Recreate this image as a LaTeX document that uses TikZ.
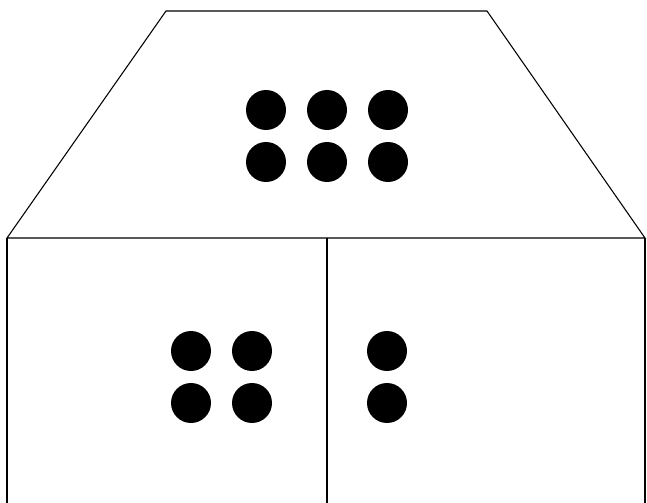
\documentclass[tikz,border=0pt]{standalone}
\usetikzlibrary{calc}

\tikzset{
  wall/.style={line width=0.8pt, black},
  dot/.style={circle, fill=black, inner sep=0pt, minimum size=30pt}
}

\begin{document}
\begin{tikzpicture}[x=0.75pt, y=-0.75pt]
\useasboundingbox (0,0) rectangle (647,503);
\coordinate (TL) at (166,11);
\coordinate (TR) at (487,11);
\coordinate (ML) at (7,238);
\coordinate (MR) at (645,238);
\coordinate (MM) at (327,238);
\coordinate (BL) at (7,504);
\coordinate (BR) at (645,504);
\coordinate (BM) at (327,504);
% roof and the two rooms
\draw[wall] (ML) -- (TL) -- (TR) -- (MR) -- cycle;
\draw[wall] (ML) -- (BL);
\draw[wall] (MR) -- (BR);
\draw[wall] (MM) -- (BM);
% six dots in the roof
\foreach \i/\x in {1/266, 2/327, 3/388}
  \foreach \j/\y in {1/110, 2/162}
    \node[dot] (roof\i\j) at (\x,\y) {};
% four dots in the left room
\foreach \i/\x in {1/191, 2/252}
  \foreach \j/\y in {1/351, 2/403}
    \node[dot] (left\i\j) at (\x,\y) {};
% two dots in the right room
\foreach \j/\y in {1/351, 2/403}
  \node[dot] (right\j) at (387,\y) {};
\end{tikzpicture}
\end{document}
